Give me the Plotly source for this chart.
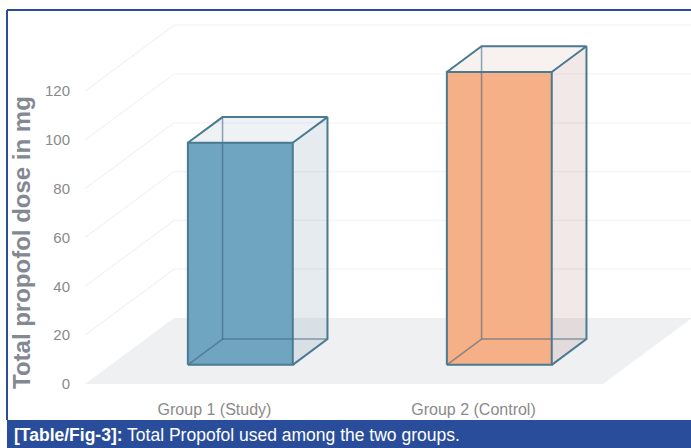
import plotly.graph_objects as go

# ---- data -------------------------------------------------------------
categories = ["Group 1 (Study)", "Group 2 (Control)"]
doses = [91, 120]
tick_values = [0, 20, 40, 60, 80, 100, 120]

front_colors = ["#6fa5c0", "#f6b087"]
side_fills = ["rgba(140,162,185,0.22)", "rgba(180,130,120,0.18)"]
top_fills = ["rgba(140,162,185,0.14)", "rgba(180,130,120,0.11)"]
EDGE = "#4a7a91"
HIDDEN_EDGE = "rgba(55,95,120,0.55)"
GRID = "#f1f3f5"
FLOOR = "#eef0f1"
BAND = "#2a4d9b"

# ---- page geometry (pixels) -------------------------------------------
W, H = 691, 448
L, R, T, B = 85, 0, 10, 50
PLOT_W = W - L - R
PLOT_H = H - T - B
ZERO_Y = 384          # pixel row of the value 0 on the front edge
PX_PER_UNIT = 2.44    # vertical pixels per mg
CAT_PX = 259          # horizontal pixels per category slot
DEPTH_PX = (89, -66)  # oblique offset from front to back of the floor

# axis ranges derived from the geometry
x_range = [-0.5, -0.5 + PLOT_W / CAT_PX]
y_range = [(ZERO_Y - (T + PLOT_H)) / PX_PER_UNIT, (ZERO_Y - T) / PX_PER_UNIT]
DX = DEPTH_PX[0] / CAT_PX
DY = -DEPTH_PX[1] / PX_PER_UNIT

HALF_W = 0.2025       # half bar width in category units
F_DEPTH, B_DEPTH = 0.29, 0.68   # bar front/back position within floor depth


def paper_x(px):
    return (px - L) / PLOT_W


def paper_y(py):
    return (T + PLOT_H - py) / PLOT_H


fig = go.Figure()


def poly(xs, ys, fill, line_color="rgba(0,0,0,0)", width=0):
    fig.add_trace(go.Scatter(
        x=list(xs) + [xs[0]], y=list(ys) + [ys[0]], mode="lines",
        fill="toself", fillcolor=fill,
        line=dict(color=line_color, width=width),
        hoverinfo="skip", showlegend=False))


def seg(pts, color, width):
    fig.add_trace(go.Scatter(
        x=[p[0] for p in pts], y=[p[1] for p in pts], mode="lines",
        line=dict(color=color, width=width),
        hoverinfo="skip", showlegend=False))


# floor
n = len(categories)
poly([-0.5, n - 0.5, n - 0.5 + DX, -0.5 + DX], [0, 0, DY, DY], FLOOR)

# gridlines: diagonal up the side, then across the back wall
for v in tick_values[1:]:
    seg([(-0.5, v), (-0.5 + DX, v + DY), (n - 0.5 + DX, v + DY)], GRID, 1.2)

# bars
for i, (cat, v) in enumerate(zip(categories, doses)):
    fx, fy = F_DEPTH * DX, F_DEPTH * DY
    bx, by = B_DEPTH * DX, B_DEPTH * DY
    xl, xr = i - HALF_W, i + HALF_W
    FLB, FRB, FRT, FLT = (xl + fx, fy), (xr + fx, fy), (xr + fx, fy + v), (xl + fx, fy + v)
    BLB, BRB, BRT, BLT = (xl + bx, by), (xr + bx, by), (xr + bx, by + v), (xl + bx, by + v)

    # right side face and top face
    poly([FRB[0], BRB[0], BRT[0], FRT[0]], [FRB[1], BRB[1], BRT[1], FRT[1]], side_fills[i])
    poly([FLT[0], FRT[0], BRT[0], BLT[0]], [FLT[1], FRT[1], BRT[1], BLT[1]], top_fills[i])
    # front face
    poly([FLB[0], FRB[0], FRT[0], FLT[0]], [FLB[1], FRB[1], FRT[1], FLT[1]], front_colors[i])

    # edges hidden behind the front face
    seg([FLB, BLB, BLT], HIDDEN_EDGE, 1.5)
    seg([BLB, BRB], HIDDEN_EDGE, 1.5)
    # visible edges
    seg([FLB, FRB, FRT, FLT, FLB], EDGE, 2)
    seg([FLT, BLT, BRT, FRT], EDGE, 2)
    seg([BRT, BRB, FRB], EDGE, 2)

fig.update_layout(
    width=W, height=H,
    margin=dict(l=L, r=R, t=T, b=B),
    paper_bgcolor="white", plot_bgcolor="white",
    font=dict(family="Liberation Sans, Arial, sans-serif"),
    xaxis=dict(range=x_range, showgrid=False, zeroline=False, showline=False,
               tickmode="array", tickvals=list(range(n)), ticktext=categories,
               tickfont=dict(size=16, color="#8a8a8a"), fixedrange=True),
    yaxis=dict(range=y_range, showgrid=False, zeroline=False, showline=False,
               tickmode="array", tickvals=tick_values,
               tickfont=dict(size=15, color="#8a8a8a"),
               ticklabelstandoff=14, fixedrange=True),
    shapes=[
        # caption band
        dict(type="rect", xref="paper", yref="paper",
             x0=paper_x(7), x1=paper_x(W), y0=paper_y(420), y1=paper_y(H),
             fillcolor=BAND, line=dict(width=0), layer="above"),
        # frame lines
        dict(type="line", xref="paper", yref="paper",
             x0=paper_x(7), x1=paper_x(W), y0=paper_y(10), y1=paper_y(10),
             line=dict(color=BAND, width=2)),
        dict(type="line", xref="paper", yref="paper",
             x0=paper_x(7), x1=paper_x(7), y0=paper_y(10), y1=paper_y(420),
             line=dict(color=BAND, width=2)),
    ],
    annotations=[
        dict(text="<b>Total propofol dose in mg</b>", textangle=-90,
             xref="paper", yref="paper", x=paper_x(21), y=paper_y(243),
             xanchor="center", yanchor="middle", showarrow=False,
             font=dict(size=24, color="#838893")),
        dict(text="<b>[Table/Fig-3]:</b> Total Propofol used among the two groups.",
             xref="paper", yref="paper", x=paper_x(12), y=paper_y(435),
             xanchor="left", yanchor="middle", showarrow=False,
             font=dict(size=17.5, color="white")),
    ],
)

fig.write_html("out.html")
